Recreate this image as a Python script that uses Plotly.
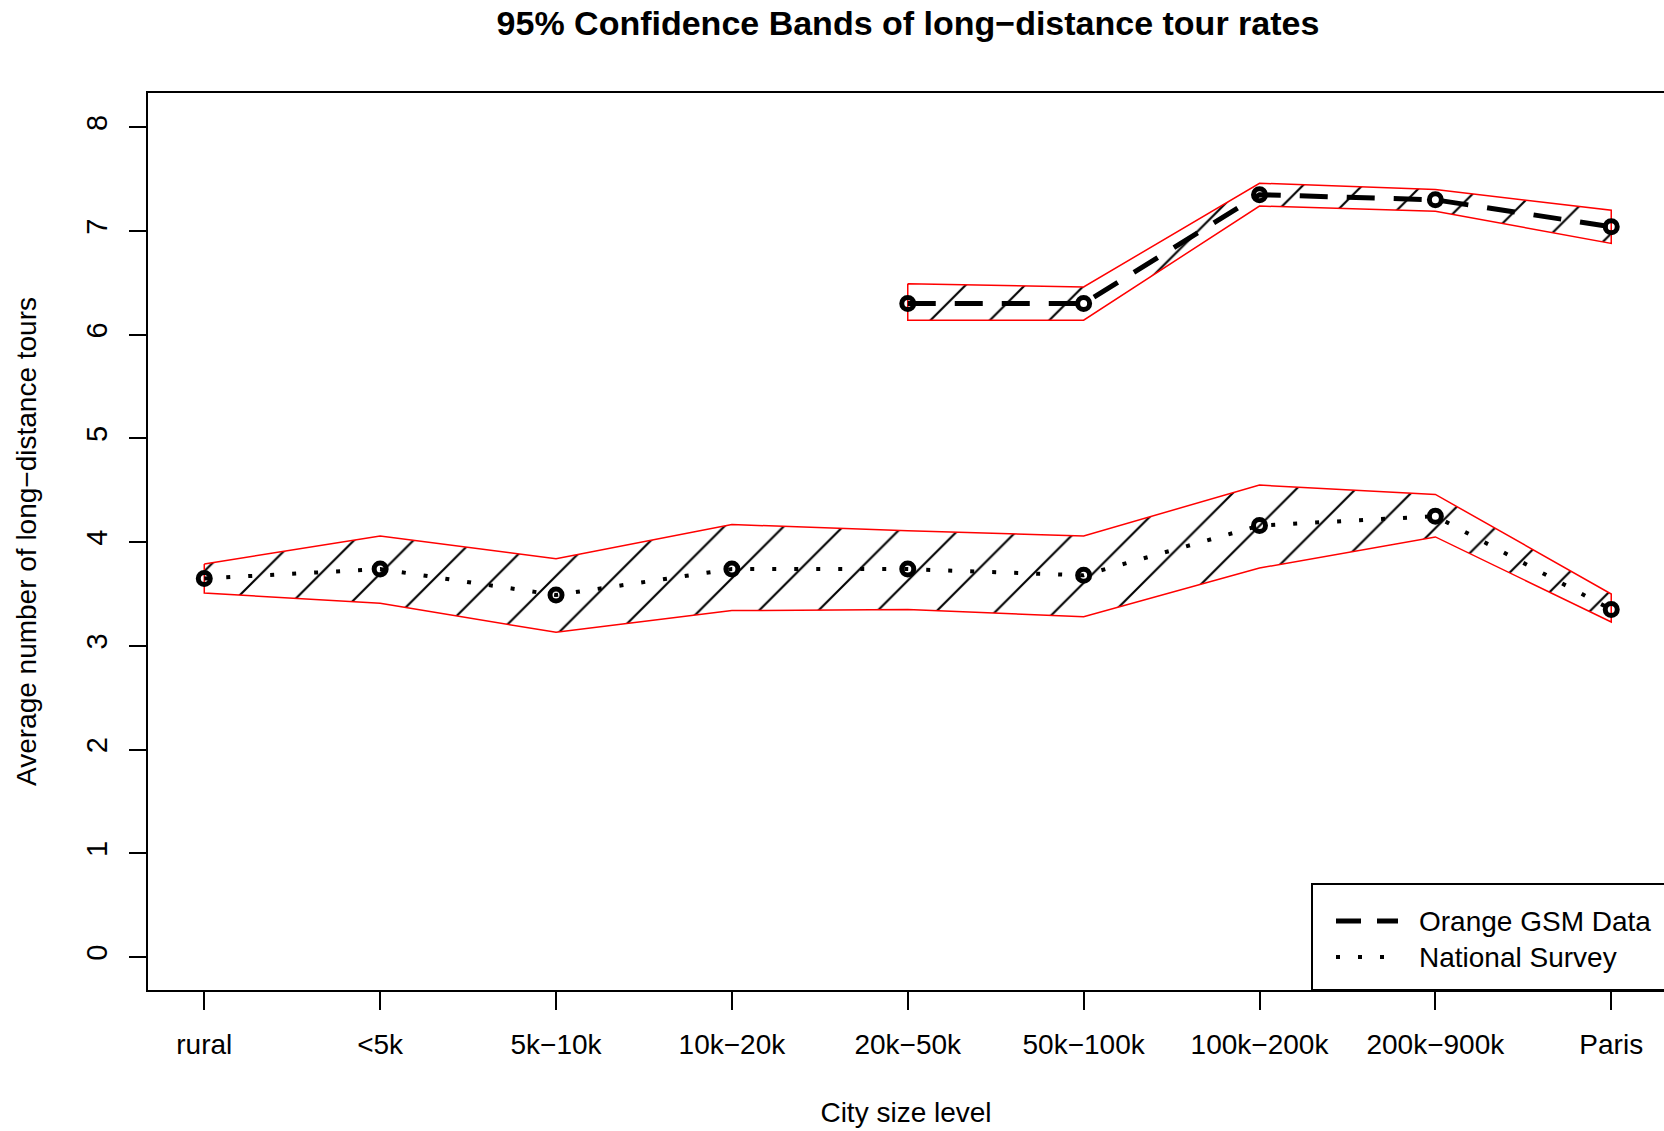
import plotly.graph_objects as go

# City size classes on the x axis
categories = ["rural", "<5k", "5k\u221210k", "10k\u221220k", "20k\u221250k",
              "50k\u2212100k", "100k\u2212200k", "200k\u2212900k", "Paris"]

# National Survey: mean long-distance tours and 95% confidence limits
survey_mean = [3.65, 3.74, 3.49, 3.74, 3.74, 3.68, 4.16, 4.25, 3.35]
survey_upper = [3.79, 4.06, 3.84, 4.17, 4.11, 4.06, 4.55, 4.46, 3.50]
survey_lower = [3.51, 3.41, 3.13, 3.34, 3.35, 3.28, 3.75, 4.05, 3.23]

# Orange GSM Data: only available from the 20k-50k class upwards
gsm_start = 4
gsm_mean = [6.30, 6.30, 7.35, 7.30, 7.04]
gsm_upper = [6.49, 6.46, 7.46, 7.40, 7.20]
gsm_lower = [6.14, 6.14, 7.24, 7.19, 6.88]

y_ticks = [0, 1, 2, 3, 4, 5, 6, 7, 8]

legend_names = ["Orange GSM Data", "National Survey"]

FONT = "Liberation Sans, Arial, Helvetica, sans-serif"
GSM_LINE = dict(color="black", width=5, dash="28px,19px")
SURVEY_LINE = dict(color="black", width=4, dash="4px,18px")

survey_x = list(range(len(categories)))
gsm_x = list(range(gsm_start, gsm_start + len(gsm_mean)))

# plot area in pixels (used to place the legend box in paper units)
W, H = 1664, 1131
L, R, T, B = 148, 0, 93, 141
PW, PH = W - L - R, H - T - B


def px_x(p):
    return (p - L) / PW


def px_y(p):
    return (H - B - p) / PH


def band_trace(xs, upper, lower):
    """Closed polygon between the upper and lower limits, hatched."""
    px = list(xs) + list(xs)[::-1] + [xs[0]]
    py = list(upper) + list(lower)[::-1] + [upper[0]]
    return go.Scatter(
        x=px, y=py, mode="lines", fill="toself", fillcolor="white",
        line=dict(color="#ff0000", width=1.5),
        fillpattern=dict(shape="/", size=42, solidity=0.05,
                         fgcolor="black", bgcolor="white", fgopacity=1),
        hoverinfo="skip", showlegend=False,
    )


fig = go.Figure()

# hatched confidence bands
fig.add_trace(band_trace(gsm_x, gsm_upper, gsm_lower))
fig.add_trace(band_trace(survey_x, survey_upper, survey_lower))

# mean lines
fig.add_trace(go.Scatter(
    x=gsm_x, y=gsm_mean, mode="lines", name=legend_names[0],
    line=GSM_LINE, showlegend=False,
))
fig.add_trace(go.Scatter(
    x=survey_x, y=survey_mean, mode="lines", name=legend_names[1],
    line=SURVEY_LINE, showlegend=False,
))

# open circles at each class mean
for xs, ys in ((gsm_x, gsm_mean), (survey_x, survey_mean)):
    fig.add_trace(go.Scatter(
        x=xs, y=ys, mode="markers", showlegend=False,
        marker=dict(symbol="circle-open", size=12, color="black",
                    line=dict(width=5, color="black")),
    ))

# legend box in the bottom-right corner, sitting on the x axis
shapes = [dict(type="rect", xref="paper", yref="paper",
               x0=px_x(1312), x1=1.05, y0=0, y1=px_y(884),
               line=dict(color="black", width=2), fillcolor="white",
               layer="above")]
annotations = []
for row_y, name, style in ((921, legend_names[0], GSM_LINE),
                           (957, legend_names[1], SURVEY_LINE)):
    sample = dict(style)
    if name == legend_names[0]:
        sample["dash"] = "25px,16px"
    shapes.append(dict(type="line", xref="paper", yref="paper",
                       x0=px_x(1336), x1=px_x(1398), y0=px_y(row_y), y1=px_y(row_y),
                       line=sample, layer="above"))
    annotations.append(dict(xref="paper", yref="paper", x=px_x(1417), y=px_y(row_y),
                            text=name, showarrow=False, xanchor="left",
                            yanchor="middle",
                            font=dict(family=FONT, size=28, color="black")))

fig.update_layout(
    width=W, height=H,
    margin=dict(l=L, r=R, t=T, b=B, autoexpand=False),
    paper_bgcolor="white", plot_bgcolor="white",
    font=dict(family=FONT, size=28, color="black"),
    title=dict(
        text="<b>95% Confidence Bands of long\u2212distance tour rates</b>",
        font=dict(family=FONT, size=34, color="black"),
        x=0.5013, xref="paper", xanchor="center",
        y=1 - 23 / H, yref="container", yanchor="middle",
    ),
    showlegend=False,
    shapes=shapes,
    annotations=annotations,
    xaxis=dict(
        range=[-0.32, 8.30], tickmode="array", tickvals=survey_x,
        ticktext=categories, ticks="outside", ticklen=18, tickwidth=2,
        tickcolor="black", showline=True, linecolor="black", linewidth=2,
        mirror=True, showgrid=False, zeroline=False,
        tickfont=dict(family=FONT, size=28, color="black"),
        ticklabelstandoff=10,
        title=dict(text="City size level", standoff=44,
                   font=dict(family=FONT, size=28, color="black")),
    ),
    yaxis=dict(
        range=[-0.318, 8.33], tickmode="array", tickvals=y_ticks,
        ticks="outside", ticklen=17, tickwidth=2, tickcolor="black",
        tickangle=-90, showline=True, linecolor="black", linewidth=2,
        mirror=False, showgrid=False, zeroline=False,
        tickfont=dict(family=FONT, size=29, color="black"),
        ticklabelstandoff=10,
        title=dict(text="Average number of long\u2212distance tours", standoff=37,
                   font=dict(family=FONT, size=28, color="black")),
    ),
)

fig.write_html("out.html")
